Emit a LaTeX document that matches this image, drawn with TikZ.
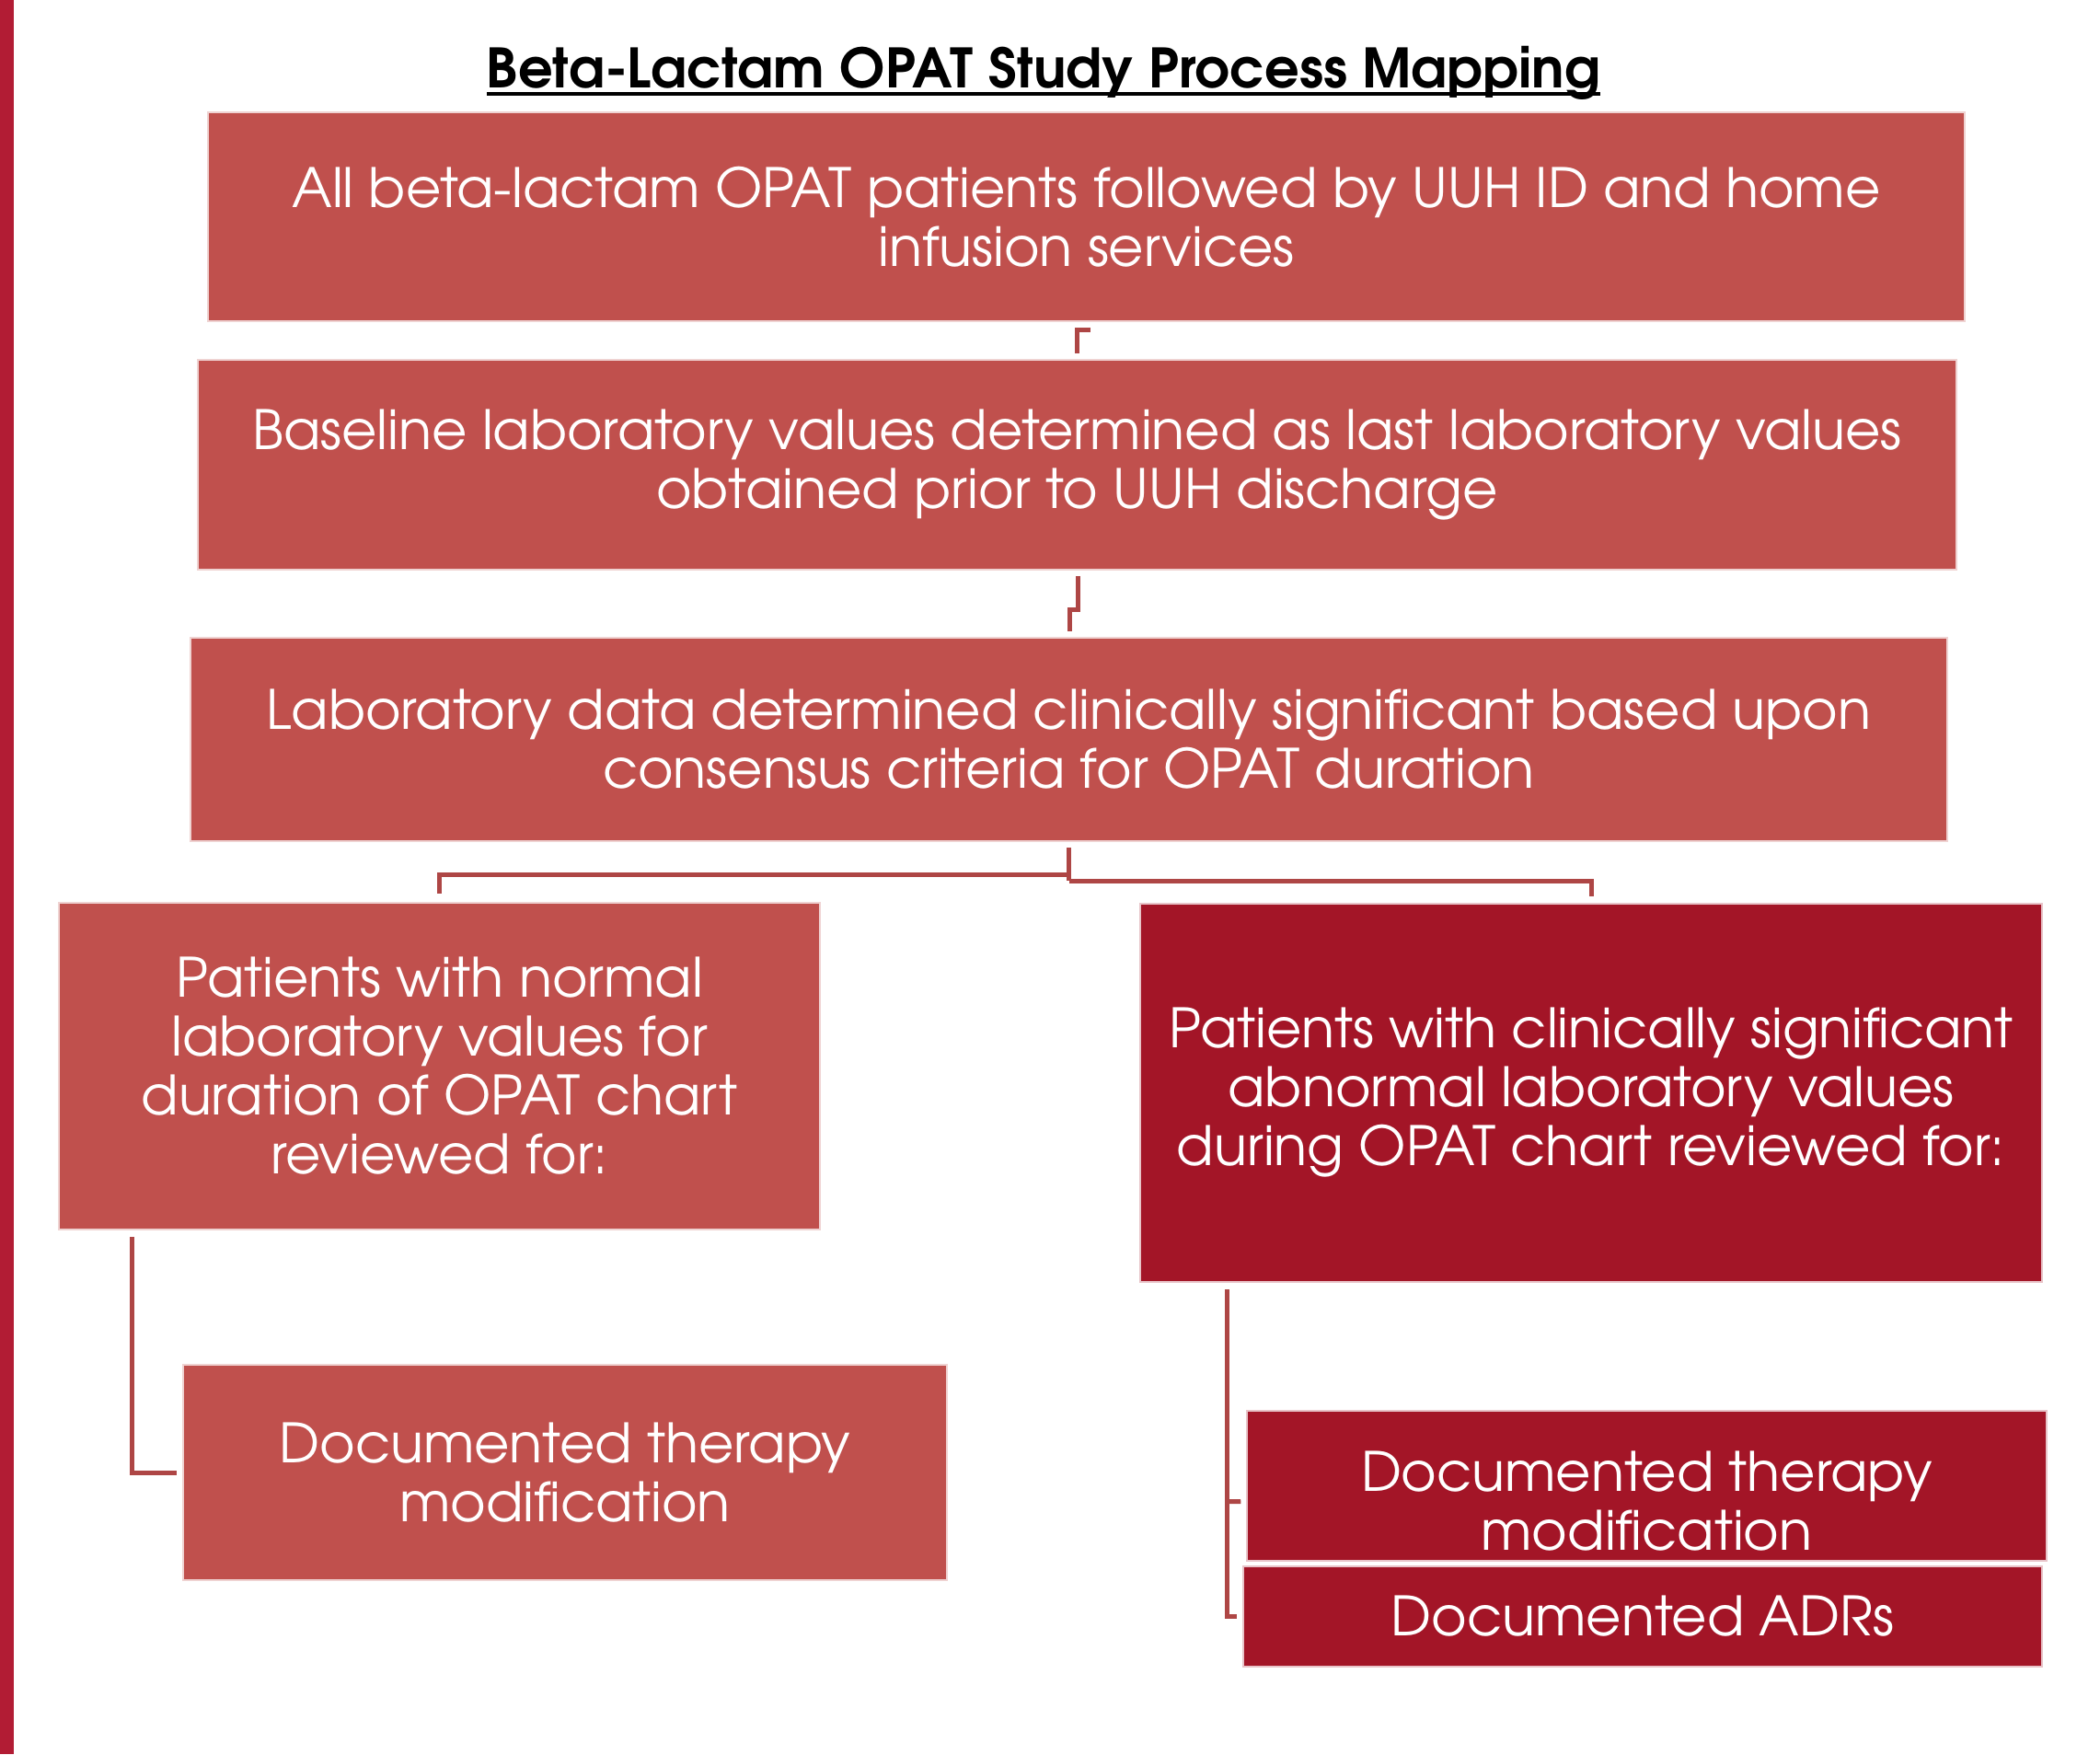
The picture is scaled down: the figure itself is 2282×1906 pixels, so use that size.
\documentclass[tikz,border=0pt]{standalone}
\usepackage{fontspec}
\setmainfont{TeX Gyre Adventor}
\usetikzlibrary{calc}
\definecolor{lightred}{HTML}{C0504D}
\definecolor{darkred}{HTML}{A31527}
\definecolor{connred}{HTML}{AE4645}
\definecolor{barred}{HTML}{B21C34}
\tikzset{
  box/.style={fill=lightred, draw=white!75!lightred, line width=1.5pt, inner sep=0pt, align=center, text=white,
    font=\fontsize{59}{64}\selectfont},
  darkbox/.style={box, fill=darkred, draw=white!75!darkred},
  conn/.style={draw=connred, line width=5pt},
}
\begin{document}
\begin{tikzpicture}[x=1pt,y=-1pt]
\useasboundingbox (0,0) rectangle (2282,1906);
\fill[barred] (0,0) rectangle (15,1906);
% title
\node[inner sep=0pt, anchor=base, font=\fontsize{59}{62}\selectfont\bfseries] (title) at (1134,95) {Beta-Lactam OPAT Study Process Mapping};
\draw[line width=4.5pt] ($(title.base west)+(0,7)$) -- ($(title.base east)+(0,7)$);
% boxes
\node[box, minimum width=1909, minimum height=227] (b1) at (1180.5,235.5)
  {All beta-lactam OPAT patients followed by UUH ID and home\\infusion services};
\node[box, minimum width=1911, minimum height=228] (b2) at (1170.5,505)
  {Baseline laboratory values determined as last laboratory values\\obtained prior to UUH discharge};
\node[box, minimum width=1909, minimum height=221] (b3) at (1161.5,803.5)
  {Laboratory data determined clinically significant based upon\\consensus criteria for OPAT duration};
\node[box, minimum width=827, minimum height=355] (b4) at (477.5,1158.5)
  {Patients with normal\\laboratory values for\\duration of OPAT chart\\reviewed for:};
\node[darkbox, minimum width=980, minimum height=411] (b5) at (1729,1187.5)
  {Patients with clinically significant\\abnormal laboratory values\\during OPAT chart reviewed for:};
\node[box, minimum width=830, minimum height=234] (b6) at (614,1600)
  {Documented therapy\\modification};
\node[darkbox, minimum width=869, minimum height=163] (b7) at (1789.5,1614.5) {};
\node[inner sep=0pt, align=center, text=white, font=\fontsize{59}{64}\selectfont] (b7t) at (1789.5,1631.5)
  {Documented therapy\\modification};
\node[darkbox, minimum width=868, minimum height=109] (b8) at (1785,1756.5)
  {Documented ADRs};
% connectors
\draw[conn] ($(b1.south)+(1.5,6)$) -- ++(0,3) -| ($(b2.north)+(0,-6)$);
\draw[conn] ($(b2.south)+(0.5,6)$) -- ++(0,37) -| ($(b3.north)+(0.5,-6)$);
\draw[conn] ($(b3.south)+(0,6)$) -- ++(0,36);
\draw[conn] ($(b3.south)+(0,36)$) -| ($(b4.north)+(0,-9)$);
\draw[conn] ($(b3.south)+(0,43)$) -| ($(b5.north)+(0,-7)$);
\draw[conn] ($(b4.south west)+(80,7)$) |- ($(b6.west)+(-6,0)$);
\draw[conn] ($(b5.south west)+(95,7)$) |- ($(b8.west)+(-6,0)$);
\draw[conn] ($(b5.south west)+(95,238)$) -- ($(b7.west)+(-6,17)$);
\end{tikzpicture}
\end{document}
